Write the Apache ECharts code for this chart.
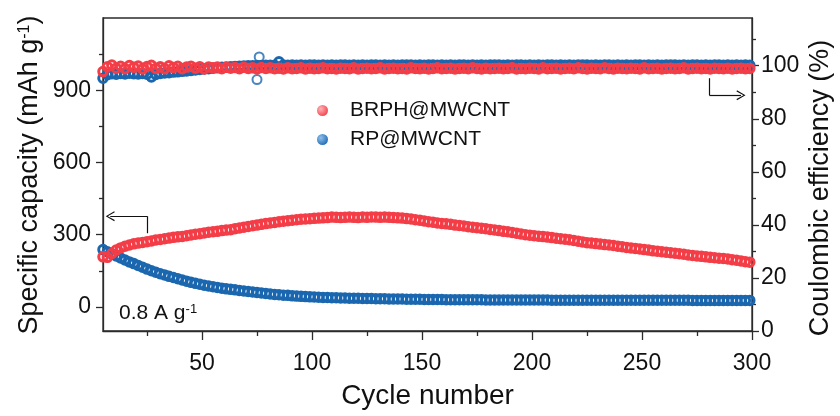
<!DOCTYPE html>
<html><head><meta charset="utf-8">
<script src="https://cdn.jsdelivr.net/npm/echarts@6/dist/echarts.min.js"></script>
<style>html,body{margin:0;padding:0;background:#fff}#c{width:840px;height:416px}</style>
</head><body><div id="c"></div>
<script>
// ---- data ----
const cycles = [
  5,7,9,11,13,15,17,19,21,23,
  25,27,29,31,33,35,37,39,41,43,
  45,47,49,51,53,55,57,59,61,63,
  65,67,69,71,73,75,77,79,81,83,
  85,87,89,91,93,95,97,99,101,103,
  105,107,109,111,113,115,117,119,121,123,
  125,127,129,131,133,135,137,139,141,143,
  145,147,149,151,153,155,157,159,161,163,
  165,167,169,171,173,175,177,179,181,183,
  185,187,189,191,193,195,197,199,201,203,
  205,207,209,211,213,215,217,219,221,223,
  225,227,229,231,233,235,237,239,241,243,
  245,247,249,251,253,255,257,259,261,263,
  265,267,269,271,273,275,277,279,281,283,
  285,287,289,291,293,295,297,299
];
const capBRPH = [
  208,206,222,236,245,252,257,262,265,268,
  271,274,278,280,283,286,289,291,293,296,
  299,302,304,307,310,312,314,317,319,321,
  325,328,331,334,337,340,343,346,349,351,
  354,356,358,360,362,364,365,366,368,369,
  370,371,373,372,371,372,373,372,371,373,
  372,374,373,372,373,372,371,370,369,367,
  365,362,360,357,354,352,349,347,345,343,
  340,338,336,333,331,329,327,325,322,320,
  317,314,312,309,306,303,300,298,296,294,
  292,290,288,285,283,281,279,276,273,270,
  267,265,263,261,259,257,255,252,250,247,
  245,243,241,238,236,233,231,229,227,225,
  223,221,219,216,214,212,210,208,206,204,
  202,201,199,196,194,191,188,186
];
const capRP = [
  238,229,220,212,203,195,187,180,172,165,
  157,150,144,138,133,127,122,117,112,107,
  102,98,94,90,87,84,81,78,75,73,
  71,68,66,64,62,60,58,56,54,52,
  51,49,48,46,45,44,43,42,41,40,
  39,39,38,38,37,37,36,36,36,35,
  35,35,34,34,34,33,33,33,33,32,
  32,32,32,31,31,31,31,31,30,30,
  30,30,30,30,30,30,30,29,29,29,
  29,29,29,29,29,29,29,29,29,29,
  29,29,28,28,28,28,28,28,28,28,
  28,28,28,28,28,28,28,28,28,28,
  28,28,28,28,28,28,28,28,28,28,
  28,28,28,28,27,27,27,27,27,27,
  27,27,27,27,27,27,27,27
];
const ceBRPH = [
  97.8,99.6,100.3,99.1,99.8,98.9,100.1,99.4,99.9,98.8,
  99.7,100.2,99.0,99.6,98.9,100.0,99.3,99.8,98.9,99.5,
  99.8,99.1,99.6,98.8,99.5,99.2,99.5,98.9,99.4,99.1,
  99.3,98.9,99.4,99.0,99.2,98.8,99.3,99.0,99.2,98.9,
  99.1,98.8,99.2,98.9,99.0,99.2,98.8,99.1,98.9,99.0,
  99.2,98.9,99.0,98.8,99.1,99.0,98.9,99.2,98.8,99.0,
  99.1,98.9,99.0,99.2,98.8,99.0,99.1,98.9,99.0,98.8,
  99.2,99.0,98.9,99.1,98.8,99.0,99.2,98.9,99.0,99.1,
  98.8,99.0,99.1,98.9,99.2,99.0,98.8,99.1,98.9,99.0,
  99.1,98.9,99.0,99.2,98.8,99.0,98.9,99.1,99.0,98.8,
  99.2,98.9,99.0,99.1,98.8,99.0,99.1,98.9,99.2,99.0,
  98.8,99.1,99.0,98.9,99.2,99.0,98.8,99.1,99.0,98.9,
  99.1,99.0,98.8,99.2,98.9,99.0,99.1,98.8,99.0,99.1,
  98.9,99.0,99.2,98.8,99.0,99.1,98.9,99.0,98.8,99.1,
  99.0,98.9,99.1,98.8,99.0,99.1,98.9,99.0
];
const ceRP = [
  95.3,96.6,97.0,96.8,97.1,96.9,97.2,97.0,96.9,97.1,
  96.8,95.8,96.7,97.1,97.3,97.4,97.6,97.7,97.9,98.0,
  98.2,98.4,98.6,98.8,98.9,99.1,99.2,99.4,99.5,99.6,
  99.7,99.8,99.9,100.0,100.0,100.1,100.1,100.2,100.2,100.2,
  101.5,100.3,100.2,100.3,100.2,100.3,100.2,100.3,100.3,100.2,
  100.3,100.2,100.3,100.2,100.3,100.3,100.2,100.3,100.2,100.3,
  100.2,100.3,100.3,100.2,100.3,100.2,100.3,100.2,100.3,100.3,
  100.3,100.2,100.3,100.2,100.3,100.3,100.2,100.3,100.2,100.3,
  100.2,100.3,100.3,100.2,100.3,100.2,100.3,100.2,100.3,100.3,
  100.3,100.2,100.3,100.2,100.3,100.3,100.2,100.3,100.2,100.3,
  100.2,100.3,100.3,100.2,100.3,100.2,100.3,100.2,100.3,100.3,
  100.3,100.2,100.3,100.2,100.3,100.3,100.2,100.3,100.2,100.3,
  100.2,100.3,100.3,100.2,100.3,100.2,100.3,100.2,100.3,100.3,
  100.3,100.2,100.3,100.2,100.3,100.3,100.2,100.3,100.2,100.3,
  100.3,100.2,100.3,100.2,100.3,100.2,100.3,100.2
];
const ceRPOutlierCycles = [75, 76];
const ceRPOutliers = [94.8, 103.3];
const xMajorTicks = [50, 100, 150, 200, 250, 300];
const xMinorTicks = [25, 75, 125, 175, 225, 275];
const capTicks = [0, 300, 600, 900];
const capMinorTicks = [150, 450, 750, 1050];
const ceTicks = [0, 20, 40, 60, 80, 100];
const ceMinorTicks = [10, 30, 50, 70, 90, 110];
const leftArrow = [[25, 306], [25, 377], [8.3, 377]];
const rightArrow = [[280.6, 95.3], [280.6, 88.9], [295, 88.9]];

// ---- styling ----
const FONT = 'Liberation Sans, Arial, Helvetica, sans-serif';
const RED = '#f33d47';
const BLUE = '#1b67af';
const AX = '#2b2b2b';
const chart = echarts.init(document.getElementById('c'), null, {renderer: 'canvas'});

function pairs(xs, ys) { return xs.map((x, i) => [x, ys[i]]); }
function ring(color) {
  return {color: 'rgba(255,255,255,0)', borderColor: color, borderWidth: 3, opacity: 1};
}
function ball(light, dark) {
  return new echarts.graphic.RadialGradient(0.35, 0.35, 0.75, [
    {offset: 0, color: light}, {offset: 1, color: dark}
  ]);
}
const chevron = 'path://M0,10 L5,0 L10,10 L8.8,10.6 L5,2.4 L1.2,10.6 Z';

function arrowMark(pts) {
  return {
    silent: true, animation: false,
    symbol: ['none', 'none'],
    label: {show: false},
    lineStyle: {color: '#111', width: 1.2, type: 'solid'},
    emphasis: {disabled: true},
    data: [
      [{coord: pts[0], symbol: 'none'}, {coord: pts[1], symbol: 'none'}],
      [{coord: pts[1], symbol: 'none'}, {coord: pts[2], symbol: chevron, symbolSize: [10, 9]}]
    ]
  };
}

const baseAxisLabel = {fontFamily: FONT, fontSize: 23, color: '#111'};

const option = {
  animation: false,
  backgroundColor: '#fff',
  grid: {left: 103, right: 88, top: 18, bottom: 85, show: true, borderColor: AX, borderWidth: 1.3},
  legend: {
    orient: 'vertical', left: 312, top: 95, itemGap: 8,
    itemWidth: 11, itemHeight: 11, icon: 'circle',
    textStyle: {fontFamily: FONT, fontSize: 21, color: '#111', padding: [0, 0, 0, 17]},
    data: [
      {name: 'BRPH@MWCNT', itemStyle: {color: ball('#ffb3b6', RED), borderWidth: 0}},
      {name: 'RP@MWCNT', itemStyle: {color: ball('#8fc0ec', BLUE), borderWidth: 0}}
    ]
  },
  xAxis: [
    {
      type: 'value', min: 5, max: 300, position: 'bottom',
      axisLine: {show: true, onZero: false, lineStyle: {color: AX, width: 1.3}},
      axisTick: {show: true, customValues: xMajorTicks, length: 9, inside: false, lineStyle: {color: AX, width: 1.3}},
      axisLabel: Object.assign({customValues: xMajorTicks, margin: 21}, baseAxisLabel),
      splitLine: {show: false},
      name: 'Cycle number', nameLocation: 'middle', nameGap: 51,
      nameTextStyle: {fontFamily: FONT, fontSize: 28, color: '#111'}
    },
    {
      type: 'value', min: 5, max: 300, position: 'bottom',
      axisLine: {show: false, onZero: false},
      axisTick: {show: true, customValues: xMinorTicks, length: 5, inside: false, lineStyle: {color: AX, width: 1.3}},
      axisLabel: {show: false}, splitLine: {show: false}
    }
  ],
  yAxis: [
    {
      type: 'value', min: -100, max: 1200, position: 'left',
      axisLine: {show: true, onZero: false, lineStyle: {color: AX, width: 1.3}},
      axisTick: {show: true, customValues: capTicks, length: 7, inside: false, lineStyle: {color: AX, width: 1.3}},
      axisLabel: Object.assign({customValues: capTicks, margin: 12}, baseAxisLabel),
      splitLine: {show: false}
    },
    {
      type: 'value', min: 0, max: 118, position: 'right',
      axisLine: {show: true, onZero: false, lineStyle: {color: AX, width: 1.3}},
      axisTick: {show: true, customValues: ceTicks, length: 7, inside: false, lineStyle: {color: AX, width: 1.3}},
      axisLabel: Object.assign({customValues: ceTicks, margin: 9}, baseAxisLabel),
      splitLine: {show: false}
    },
    {
      type: 'value', min: -100, max: 1200, position: 'left',
      axisLine: {show: false, onZero: false},
      axisTick: {show: true, customValues: capMinorTicks, length: 4, inside: false, lineStyle: {color: AX, width: 1.3}},
      axisLabel: {show: false}, splitLine: {show: false}
    },
    {
      type: 'value', min: 0, max: 118, position: 'right',
      axisLine: {show: false, onZero: false},
      axisTick: {show: true, customValues: ceMinorTicks, length: 4, inside: false, lineStyle: {color: AX, width: 1.3}},
      axisLabel: {show: false}, splitLine: {show: false}
    }
  ],
  series: [
    {name: 'RP@MWCNT', type: 'scatter', xAxisIndex: 0, yAxisIndex: 0, symbol: 'circle', symbolSize: 8.5,
     itemStyle: ring(BLUE), data: pairs(cycles, capRP), z: 2},
    {name: 'RP@MWCNT', type: 'scatter', xAxisIndex: 0, yAxisIndex: 1, symbol: 'circle', symbolSize: 8.5,
     itemStyle: ring(BLUE), data: pairs(cycles, ceRP), z: 2},
    {name: 'RP@MWCNT', type: 'scatter', xAxisIndex: 0, yAxisIndex: 1, symbol: 'circle', symbolSize: 9,
     itemStyle: {color: 'rgba(255,255,255,0)', borderColor: BLUE, borderWidth: 2}, data: pairs(ceRPOutlierCycles, ceRPOutliers), z: 2},
    {name: 'BRPH@MWCNT', type: 'scatter', xAxisIndex: 0, yAxisIndex: 0, symbol: 'circle', symbolSize: 8.5,
     itemStyle: ring(RED), data: pairs(cycles, capBRPH), z: 3, markLine: arrowMark(leftArrow)},
    {name: 'BRPH@MWCNT', type: 'scatter', xAxisIndex: 0, yAxisIndex: 1, symbol: 'circle', symbolSize: 8.5,
     itemStyle: ring(RED), data: pairs(cycles, ceBRPH), z: 3, markLine: arrowMark(rightArrow)}
  ],
  graphic: [
    {type: 'text', x: 30, y: 175, rotation: Math.PI / 2,
     style: {text: 'Specific capacity (mAh g{sup|-1})', font: '27px ' + FONT, fill: '#111',
       textAlign: 'center', textVerticalAlign: 'middle',
       rich: {sup: {fontSize: 16, fontFamily: FONT, verticalAlign: 'top', fill: '#111'}}}},
    {type: 'text', x: 821, y: 188, rotation: Math.PI / 2,
     style: {text: 'Coulombic efficiency (%)', font: '27px ' + FONT, fill: '#111',
       textAlign: 'center', textVerticalAlign: 'middle'}},
    {type: 'text', x: 119, y: 313,
     style: {text: '0.8 A g{sup|-1}', font: '21px ' + FONT, fill: '#111',
       textAlign: 'left', textVerticalAlign: 'middle',
       rich: {sup: {fontSize: 13, fontFamily: FONT, verticalAlign: 'top', fill: '#111'}}}}
  ]
};
chart.setOption(option);
</script>
</body></html>
